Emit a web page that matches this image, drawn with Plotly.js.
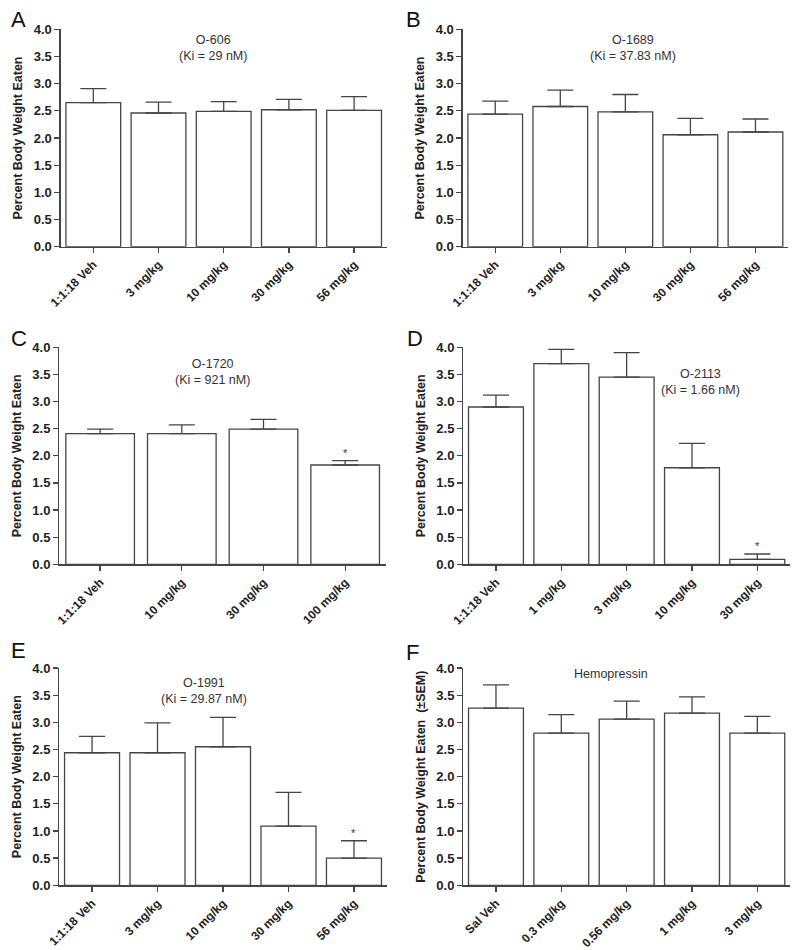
<!DOCTYPE html>
<html>
<head>
<meta charset="utf-8">
<script src="https://cdn.plot.ly/plotly-3.0.1.min.js"></script>
<style>html,body{margin:0;padding:0;background:#fff;}#chart{width:800px;height:950px;}</style>
</head>
<body>
<div id="chart"></div>
<script>
// ---- Data ----
const catsA = ['1:1:18 Veh', '3 mg/kg', '10 mg/kg', '30 mg/kg', '56 mg/kg'];
const meanA = [2.65, 2.46, 2.49, 2.52, 2.51];
const semA  = [0.26, 0.20, 0.18, 0.19, 0.25];

const catsB = ['1:1:18 Veh', '3 mg/kg', '10 mg/kg', '30 mg/kg', '56 mg/kg'];
const meanB = [2.44, 2.58, 2.48, 2.06, 2.11];
const semB  = [0.24, 0.30, 0.32, 0.30, 0.24];

const catsC = ['1:1:18 Veh', '10 mg/kg', '30 mg/kg', '100 mg/kg'];
const meanC = [2.41, 2.41, 2.49, 1.83];
const semC  = [0.08, 0.16, 0.18, 0.08];

const catsD = ['1:1:18 Veh', '1 mg/kg', '3 mg/kg', '10 mg/kg', '30 mg/kg'];
const meanD = [2.90, 3.70, 3.45, 1.78, 0.09];
const semD  = [0.22, 0.26, 0.45, 0.45, 0.10];

const catsE = ['1:1:18 Veh', '3 mg/kg', '10 mg/kg', '30 mg/kg', '56 mg/kg'];
const meanE = [2.44, 2.44, 2.55, 1.09, 0.50];
const semE  = [0.30, 0.55, 0.54, 0.62, 0.32];

const catsF = ['Sal Veh', '0.3 mg/kg', '0.56 mg/kg', '1 mg/kg', '3 mg/kg'];
const meanF = [3.26, 2.80, 3.06, 3.17, 2.80];
const semF  = [0.43, 0.34, 0.33, 0.30, 0.31];

const panelLetters = ['A', 'B', 'C', 'D', 'E', 'F'];
const panelTitles = ['O-606<br>(Ki = 29 nM)', 'O-1689<br>(Ki = 37.83 nM)', 'O-1720<br>(Ki = 921 nM)',
                     'O-2113<br>(Ki = 1.66 nM)', 'O-1991<br>(Ki = 29.87 nM)', 'Hemopressin'];
const yTitles = ['Percent Body Weight Eaten', 'Percent Body Weight Eaten', 'Percent Body Weight Eaten',
                 'Percent Body Weight Eaten', 'Percent Body Weight Eaten', 'Percent Body Weight Eaten\u00a0\u00a0(\u00b1SEM)'];
// significance markers: [panel index, category index]
const sigMarks = [[2, 3], [3, 4], [4, 4]];

// ---- Layout helpers ----
const W = 800, H = 950;
const px = x => x / W;
const py = y => 1 - y / H;

// pixel boxes for each panel's plot area [x0, x1, yTop, yBottom]
const boxes = [
  [60.7, 386.7, 29.3, 246.7],
  [462.7, 788, 29.3, 246.7],
  [59.3, 386, 347.3, 564.3],
  [463.3, 790, 347.3, 564.3],
  [59.3, 386.7, 668, 885.3],
  [463.3, 790, 668, 885.3]
];
// letter positions (px, top-left)
const letterPos = [[9, 5], [404, 5], [9, 324], [405, 324], [9, 636], [404, 638]];
// title positions (center x, top y)
const titlePos = [[213, 31], [633, 31], [212, 355], [700, 365], [204, 674], [611, 665]];

const cats = [catsA, catsB, catsC, catsD, catsE, catsF];
const means = [meanA, meanB, meanC, meanD, meanE, meanF];
const sems = [semA, semB, semC, semD, semE, semF];

const lineCol = '#454545';
const textCol = '#222222';
const fontFam = 'Liberation Sans, Arial, sans-serif';

const data = [];
const layout = {
  width: W, height: H,
  margin: {l: 0, r: 0, t: 0, b: 0},
  paper_bgcolor: '#ffffff', plot_bgcolor: '#ffffff',
  showlegend: false,
  font: {family: fontFam, color: textCol},
  annotations: []
};

for (let i = 0; i < 6; i++) {
  const n = i + 1;
  const xa = n === 1 ? 'x' : 'x' + n;
  const ya = n === 1 ? 'y' : 'y' + n;
  data.push({
    type: 'bar',
    x: cats[i],
    y: means[i],
    xaxis: xa, yaxis: ya,
    marker: {color: '#ffffff', line: {color: lineCol, width: 1.3}},
    width: 0.84,
    error_y: {type: 'data', symmetric: false, array: sems[i], arrayminus: sems[i].map(() => 0),
              color: lineCol, thickness: 1.3, width: 13},
    hoverinfo: 'none'
  });
  const b = boxes[i];
  layout['xaxis' + (n === 1 ? '' : n)] = {
    domain: [px(b[0]), px(b[1])],
    anchor: ya,
    type: 'category',
    range: [-0.5, cats[i].length - 0.5],
    showline: true, linecolor: lineCol, linewidth: 1.3,
    ticks: 'outside', ticklen: 5, tickcolor: lineCol, tickwidth: 1.3,
    tickangle: -45,
    tickfont: {family: fontFam, size: 12, color: textCol, weight: 'bold'},
    showgrid: false, zeroline: false, fixedrange: true
  };
  layout['yaxis' + (n === 1 ? '' : n)] = {
    domain: [py(b[3]), py(b[2])],
    anchor: xa,
    range: [0, 4],
    dtick: 0.5, tick0: 0, tickformat: '.1f',
    showline: true, linecolor: lineCol, linewidth: 1.3,
    ticks: 'outside', ticklen: 5, tickcolor: lineCol, tickwidth: 1.3,
    tickfont: {family: fontFam, size: 13, color: textCol, weight: 'bold'},
    showgrid: false, zeroline: false, fixedrange: true,
    title: {text: yTitles[i], font: {family: fontFam, size: 12.5, color: textCol, weight: 'bold'}, standoff: 8}
  };
  layout.annotations.push({
    xref: 'paper', yref: 'paper', x: px(letterPos[i][0]), y: py(letterPos[i][1]),
    xanchor: 'left', yanchor: 'top', showarrow: false, text: panelLetters[i],
    font: {family: fontFam, size: 22, color: '#111'}
  });
  layout.annotations.push({
    xref: 'paper', yref: 'paper', x: px(titlePos[i][0]), y: py(titlePos[i][1]),
    xanchor: 'center', yanchor: 'top', showarrow: false, text: panelTitles[i],
    font: {family: fontFam, size: 12.5, color: '#333'}
  });
}

sigMarks.forEach(([p, c]) => {
  const n = p + 1;
  layout.annotations.push({
    xref: 'x' + n, yref: 'y' + n,
    x: cats[p][c], y: means[p][c] + sems[p][c],
    xanchor: 'center', yanchor: 'bottom', yshift: 0, showarrow: false, text: '*',
    font: {family: fontFam, size: 11, color: '#333'}
  });
});

Plotly.newPlot('chart', data, layout, {staticPlot: true, displayModeBar: false});
</script>
</body>
</html>
